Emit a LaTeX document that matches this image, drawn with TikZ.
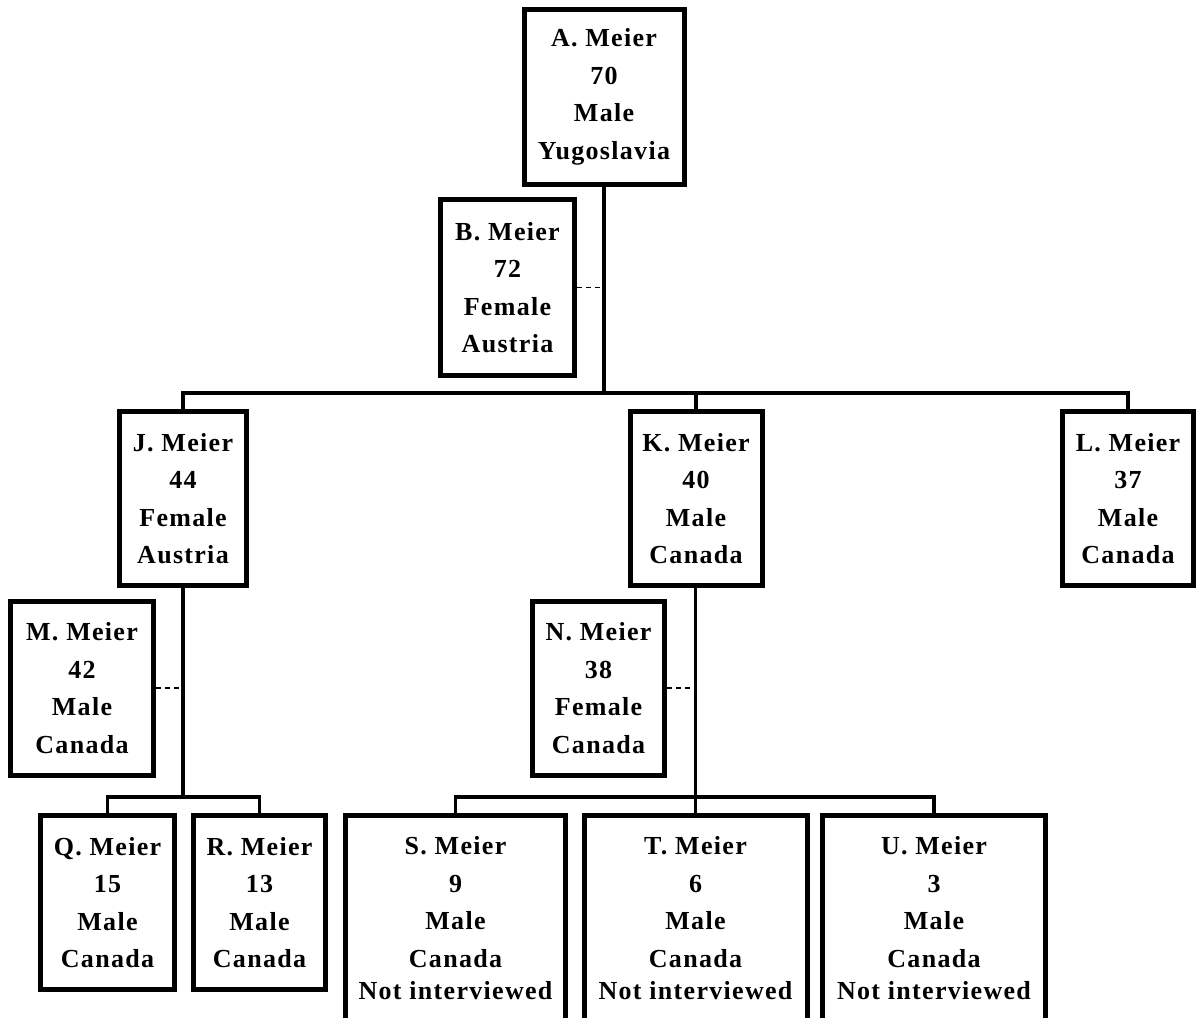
\documentclass[tikz,border=0pt]{standalone}
\usepackage{fontspec}
\setmainfont{Liberation Serif}[LetterSpace=5]
\begin{document}
\begin{tikzpicture}[x=1pt,y=-1pt,
  person/.style={draw=black, line width=5pt, fill=white, inner sep=0pt, align=center,
    font=\bfseries\fontsize{26}{37.5}\selectfont},
  link/.style={draw=black, line width=3.3pt},
  spouse/.style={draw=black, line width=1.6pt, dash pattern=on 5pt off 4pt}]
\useasboundingbox[fill=white] (0,0) rectangle (1198,1017);
% first generation
\node[person, minimum width=160pt, minimum height=175pt] (A) at (604,97) {A. Meier\\70\\Male\\Yugoslavia};
\node[person, minimum width=134pt, minimum height=176pt] (B) at (507.5,287.5) {B. Meier\\72\\Female\\Austria};
% second generation
\node[person, minimum width=127pt, minimum height=174pt] (J) at (183,498.5) {J. Meier\\44\\Female\\Austria};
\node[person, minimum width=132pt, minimum height=174pt] (K) at (696,498.5) {K. Meier\\40\\Male\\Canada};
\node[person, minimum width=131pt, minimum height=174pt] (L) at (1128,498.5) {L. Meier\\37\\Male\\Canada};
\node[person, minimum width=143pt, minimum height=174pt] (M) at (82,688) {M. Meier\\42\\Male\\Canada};
\node[person, minimum width=132pt, minimum height=174pt] (N) at (598.5,688) {N. Meier\\38\\Female\\Canada};
% third generation
\node[person, minimum width=134pt, minimum height=174pt] (Q) at (107.5,902.5) {Q. Meier\\15\\Male\\Canada};
\node[person, minimum width=132pt, minimum height=174pt] (R) at (259.5,902.5) {R. Meier\\13\\Male\\Canada};
\node[person, minimum width=220pt, minimum height=206pt] (S) at (455.5,918.5) {S. Meier\\9\\Male\\Canada\\[-5pt]Not interviewed};
\node[person, minimum width=223pt, minimum height=206pt] (T) at (695.5,918.5) {T. Meier\\6\\Male\\Canada\\[-5pt]Not interviewed};
\node[person, minimum width=223pt, minimum height=206pt] (U) at (934,918.5) {U. Meier\\3\\Male\\Canada\\[-5pt]Not interviewed};
% junction points
\coordinate (bus1) at (604,393);
\coordinate (bus2) at (183,797);
\coordinate (bus3) at (695.5,797);
% connectors
\draw[link] (A.south) -- (bus1);
\draw[link] (J.north) |- (bus1);
\draw[link] (K.north) |- (bus1);
\draw[link] (L.north) |- (bus1);
\draw[spouse] (B.east) -- (B.east -| bus1);
\draw[link] (J.south) -- (bus2);
\draw[link] (Q.north) |- (bus2);
\draw[link] (R.north) |- (bus2);
\draw[spouse] (M.east) -- (M.east -| bus2);
\draw[link] (K.south -| bus3) -- (bus3);
\draw[link] (S.north) |- (bus3);
\draw[link] (T.north) -- (bus3);
\draw[link] (U.north) |- (bus3);
\draw[spouse] (N.east) -- (N.east -| bus3);
\end{tikzpicture}
\end{document}
